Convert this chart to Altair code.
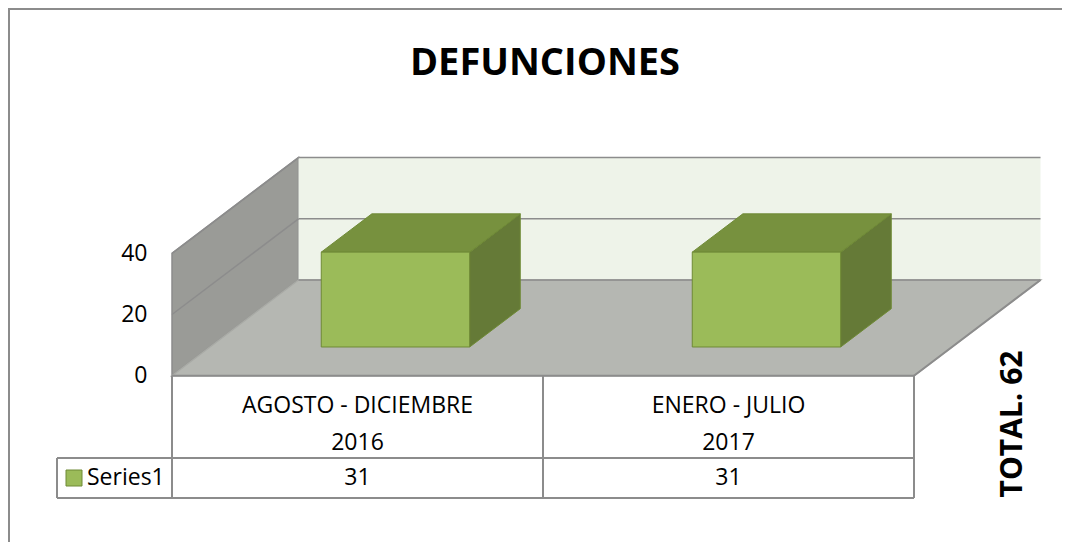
import altair as alt
import pandas as pd

# ---------------- data ----------------
categories = ["AGOSTO - DICIEMBRE", "ENERO - JULIO"]
years = ["2016", "2017"]
values = [31, 31]
series_name = "Series1"
title_text = "DEFUNCIONES"
total_text = "TOTAL. 62"
y_ticks = [0, 20, 40]

# ---------------- layout / projection constants ----------------
FONT = "Open Sans"
PAD_LEFT = 164          # view starts at page x = 8 + PAD_LEFT
W = 1054 - PAD_LEFT     # view width
H = 534                 # view height
CAT_PX = 371.0          # pixels per category band
UNIT_PX = 3.06          # pixels per value unit
ZERO_Y = 367.7          # view y of value 0 on the front plane
DX = 126.5 / CAT_PX     # depth offset in category units
DV = 95.7 / UNIT_PX     # depth offset in value units
WALL_MAX = 40
BAR_LO, BAR_HI = 0.3, 0.7
DEP_LO, DEP_HI = 0.3, 0.7

EDGE = "#8c8c8c"
LEFT_WALL = "#9a9b97"
BACK_WALL = "#eef3e9"
FLOOR = "#b5b7b2"
BAR_FRONT = "#9bbb59"
BAR_TOP = "#77913e"
BAR_SIDE = "#657a37"
BAR_EDGE = "#6f8a36"

xscale = alt.Scale(domain=[0, W / CAT_PX], range=[0, W], nice=False, zero=False)
yscale = alt.Scale(domain=[-(H - ZERO_Y) / UNIT_PX, ZERO_Y / UNIT_PX], range=[H, 0],
                   nice=False, zero=False)
yaxis = alt.Axis(values=y_ticks, ticks=False, domain=False, grid=False, labelPadding=25,
                 labelFontSize=23, labelFont=FONT, labelColor="black", title=None,
                 labelBaseline="middle")


def ux(page_x):
    return (page_x - 8 - PAD_LEFT) / CAT_PX


def uy(page_y):
    return (ZERO_Y - (page_y - 8)) / UNIT_PX


def X(f):
    return alt.X(f, type="quantitative", scale=xscale, axis=None)


def Y(f):
    return alt.Y(f, type="quantitative", scale=yscale, axis=yaxis, stack=None)


n = len(categories)

# ---------------- walls & floor ----------------
left_wall = alt.Chart(pd.DataFrame({"x": [0, DX], "y": [0, DV], "y2": [WALL_MAX, DV + WALL_MAX]})).mark_area(
    orient="vertical", fill=LEFT_WALL, stroke=EDGE, strokeWidth=1.5
).encode(x=X("x"), y=Y("y"), y2="y2")

back_wall = alt.Chart(pd.DataFrame({"x": [DX], "x2": [n + DX], "y": [DV], "y2": [DV + WALL_MAX]})).mark_rect(
    fill=BACK_WALL
).encode(x=X("x"), x2="x2", y=Y("y"), y2="y2")

floor = alt.Chart(pd.DataFrame({"y": [0, DV], "x": [0, DX], "x2": [n, n + DX]})).mark_area(
    orient="horizontal", fill=FLOOR, stroke="#a9aba6", strokeWidth=1.5
).encode(y=Y("y"), x=X("x"), x2="x2")

grid_rows = []
for t in y_ticks:
    if t == 0:
        continue
    grid_rows.append({"x": DX, "x2": n + DX, "y": DV + t, "y2": DV + t})
    grid_rows.append({"x": 0, "x2": DX, "y": t, "y2": DV + t})
grid_rows.append({"x": DX, "x2": n + DX, "y": DV, "y2": DV})
grid = alt.Chart(pd.DataFrame(grid_rows)).mark_rule(color=EDGE, strokeWidth=1.5).encode(
    x=X("x"), x2="x2", y=Y("y"), y2="y2")

# ---------------- 3D bars ----------------
front_rows, top_rows, side_rows = [], [], []
for i, v in enumerate(values):
    front_rows.append({"x": i + BAR_LO + DEP_LO * DX, "x2": i + BAR_HI + DEP_LO * DX,
                       "y": DEP_LO * DV, "y2": DEP_LO * DV + v, "bar": i})
    for d in (DEP_LO, DEP_HI):
        top_rows.append({"y": d * DV + v, "x": i + BAR_LO + d * DX, "x2": i + BAR_HI + d * DX, "bar": i})
        side_rows.append({"x": i + BAR_HI + d * DX, "y": d * DV, "y2": d * DV + v, "bar": i})

bar_side = alt.Chart(pd.DataFrame(side_rows)).mark_area(
    orient="vertical", fill=BAR_SIDE, stroke=BAR_EDGE, strokeWidth=1
).encode(x=X("x"), y=Y("y"), y2="y2", detail="bar:N")

bar_top = alt.Chart(pd.DataFrame(top_rows)).mark_area(
    orient="horizontal", fill=BAR_TOP, stroke=BAR_EDGE, strokeWidth=1
).encode(y=Y("y"), x=X("x"), x2="x2", detail="bar:N")

bar_front = alt.Chart(pd.DataFrame(front_rows)).mark_rect(
    fill=BAR_FRONT, stroke=BAR_EDGE, strokeWidth=1
).encode(x=X("x"), x2="x2", y=Y("y"), y2="y2")

# ---------------- data table ----------------
t_top, t_mid, t_bot = 376, 458, 498
t_left = 57
line_rows = [
    {"x": 0, "x2": n, "y": 0, "y2": 0},
    {"x": ux(t_left), "x2": n, "y": uy(t_mid), "y2": uy(t_mid)},
    {"x": ux(t_left), "x2": n, "y": uy(t_bot), "y2": uy(t_bot)},
    {"x": ux(t_left), "x2": ux(t_left), "y": uy(t_mid), "y2": uy(t_bot)},
    {"x": n, "x2": n + DX, "y": 0, "y2": DV},
]
for i in range(n + 1):
    line_rows.append({"x": i, "x2": i, "y": 0, "y2": uy(t_bot)})
table_lines = alt.Chart(pd.DataFrame(line_rows)).mark_rule(color=EDGE, strokeWidth=2).encode(
    x=X("x"), x2="x2", y=Y("y"), y2="y2")

text_rows = []
for i in range(n):
    text_rows.append({"x": i + 0.5, "y": uy(406), "t": categories[i]})
    text_rows.append({"x": i + 0.5, "y": uy(443), "t": years[i]})
    text_rows.append({"x": i + 0.5, "y": uy(478), "t": str(values[i])})
table_text = alt.Chart(pd.DataFrame(text_rows)).mark_text(
    font=FONT, fontSize=23, color="black", align="center", baseline="middle"
).encode(x=X("x"), y=Y("y"), text="t:N")

legend_sym = alt.Chart(pd.DataFrame({"x": [ux(66)], "x2": [ux(82)], "y": [uy(470)], "y2": [uy(486)]})).mark_rect(
    fill=BAR_FRONT, stroke=BAR_EDGE, strokeWidth=1
).encode(x=X("x"), x2="x2", y=Y("y"), y2="y2")

legend_text = alt.Chart(pd.DataFrame({"x": [ux(87)], "y": [uy(478)], "t": [series_name]})).mark_text(
    font=FONT, fontSize=23, color="black", align="left", baseline="middle"
).encode(x=X("x"), y=Y("y"), text="t:N")

# ---------------- titles & frame ----------------
title = alt.Chart(pd.DataFrame({"x": [ux(545)], "y": [uy(64)], "t": [title_text]})).mark_text(
    font=FONT, fontSize=38, fontWeight="bold", color="black", align="center", baseline="middle"
).encode(x=X("x"), y=Y("y"), text="t:N")

total = alt.Chart(pd.DataFrame({"x": [ux(1013)], "y": [uy(424)], "t": [total_text]})).mark_text(
    font=FONT, fontSize=30, fontWeight="bold", color="black", align="center", baseline="middle", angle=270
).encode(x=X("x"), y=Y("y"), text="t:N")

frame = alt.Chart(pd.DataFrame([
    {"x": ux(8), "x2": ux(1070), "y": uy(9), "y2": uy(9)},
    {"x": ux(9), "x2": ux(9), "y": uy(8), "y2": uy(542)},
])).mark_rule(color=EDGE, strokeWidth=2).encode(x=X("x"), x2="x2", y=Y("y"), y2="y2")

chart = alt.layer(
    frame, left_wall, back_wall, floor, grid,
    bar_side, bar_top, bar_front,
    table_lines, table_text, legend_sym, legend_text, title, total
).properties(
    width=W, height=H,
    autosize=alt.AutoSizeParams(type="none"),
    padding={"left": PAD_LEFT, "top": 0, "right": 0, "bottom": 0},
    background="white",
).configure_view(stroke=None)

chart.save("out.html", embed_options={"renderer": "svg", "actions": False})
